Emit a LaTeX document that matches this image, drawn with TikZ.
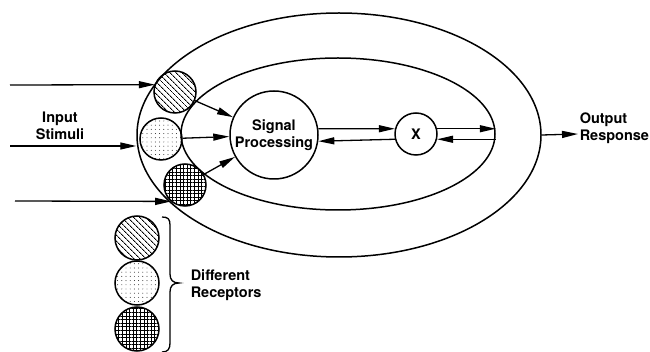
\documentclass[tikz,border=0pt]{standalone}
\usepackage{fontspec}
\setmainfont{TeX Gyre Heros}
\usetikzlibrary{shapes.geometric,arrows.meta,patterns.meta}
\begin{document}
\begin{tikzpicture}[x=1pt,y=-1pt,
  line width=1.5pt,
  arr/.style={line width=1.3pt,-{Triangle[length=16pt,width=7pt]}},
  rec/.style={circle,draw,minimum size=42pt,inner sep=0pt},
  hatchrec/.style={rec,pattern={Lines[angle=-45,distance=4pt,line width=0.9pt]}},
  dotrec/.style={rec,pattern={Dots[distance=4.2pt,radius=0.45pt]}},
  gridrec/.style={rec,pattern={Hatch[angle=0,distance=3.6pt,line width=0.9pt]}},
  lbl/.style={align=center,font=\bfseries\fontsize{14.5}{17}\selectfont,inner sep=0pt},
  lbll/.style={align=left,font=\bfseries\fontsize{14.5}{17}\selectfont,inner sep=0pt,anchor=west}]
\useasboundingbox (0,0) rectangle (650,352);
\fill[white] (0,0) rectangle (650,352);
% ellipses
\node[ellipse,draw,minimum width=404pt,minimum height=244pt,inner sep=0pt] (outer) at (339,135) {};
\node[ellipse,draw,minimum width=314pt,minimum height=152pt,inner sep=0pt] (inner) at (338,134) {};
% processing nodes
\node[circle,draw,minimum size=88pt,inner sep=0pt,lbl] (sp) at (274,135) {Signal\\Processing};
\node[circle,draw,minimum size=42pt,inner sep=0pt,lbl] (x) at (416,134) {X};
% receptors
\node[hatchrec] (r1) at (175,92) {};
\node[dotrec] (r2) at (161,139) {};
\node[gridrec] (r3) at (185,185) {};
% legend receptors
\node[hatchrec,minimum size=44pt] (l1) at (137,238) {};
\node[dotrec,minimum size=44pt] (l2) at (137,283) {};
\node[gridrec,minimum size=44pt] (l3) at (137,329) {};
% input arrows
\coordinate (in1) at (10,85);
\coordinate (in2) at (10,146);
\coordinate (in3) at (15,201);
\draw[arr] (in1) -- (r1.160);
\draw[arr] (in2) -- (outer.west |- in2);
\draw[arr] (in3) -- (r3.230);
% receptors to SP
\draw[arr] (r1) -- (sp);
\draw[arr] (r2) -- (sp);
\draw[arr] (r3) -- (sp);
% double arrows
\draw[arr] (sp.8) -- (x.166);
\draw[arr] (x.194) -- (sp.-8);
\draw[arr] (x.14) -- (x.14 -| inner.east);
\draw[arr] (x.-14 -| inner.east) -- (x.-14);
% output
\coordinate (out) at (578,134);
\draw[arr] (outer.east) -- (out);
% labels
\node[lbl] (inl) at (60,126) {Input\\Stimuli};
\node[lbll] (outl) at (579,128) {Output\\Response};
\node[lbll] (recl) at (190,285) {Different\\Receptors};
% brace
\draw[line width=1.3pt] (162,217) .. controls (168,217) and (170,219) .. (170,225)
  -- (170,274) .. controls (170,280) and (173,283) .. (179,283)
  .. controls (173,283) and (170,286) .. (170,292)
  -- (170,343) .. controls (170,349) and (168,352) .. (162,352);
\end{tikzpicture}
\end{document}
